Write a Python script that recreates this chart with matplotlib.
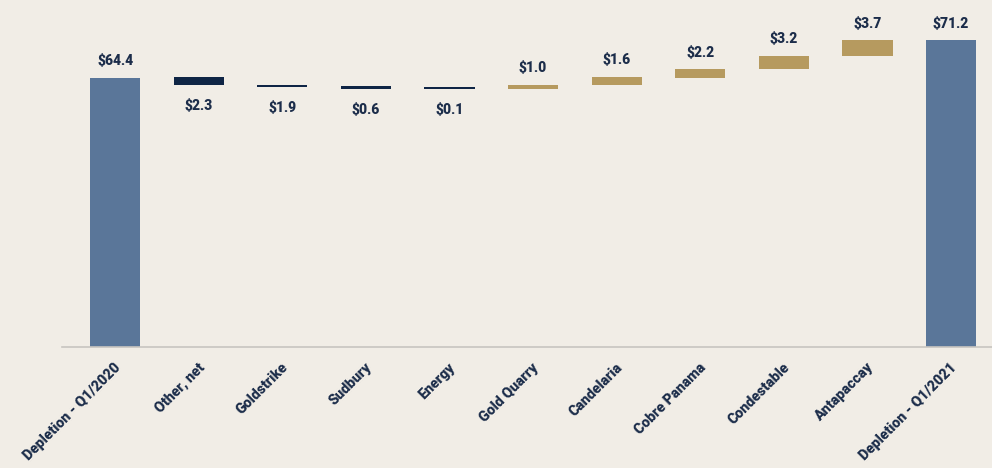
import matplotlib
matplotlib.use('Agg')
import matplotlib.pyplot as plt

# 数据
categories = ['Depletion - Q1/2020', 'Other, net', 'Goldstrike', 'Sudbury', 'Energy',
              'Gold Quarry', 'Candelaria', 'Cobre Panama', 'Condestable', 'Antapaccay',
              'Depletion - Q1/2021']
labels = ['$64.4', '$2.3', '$1.9', '$0.6', '$0.1', '$1.0', '$1.6', '$2.2', '$3.2', '$3.7', '$71.2']
kinds = ['total', 'down', 'down', 'down', 'down', 'up', 'up', 'up', 'up', 'up', 'total']
# 图中柱子的上下沿
bar_low = [0, 63.0, 62.7, 62.4, 62.3, 62.3, 63.0, 64.4, 65.9, 68.4, 0]
bar_high = [64.4, 64.45, 63.05, 62.8, 62.65, 63.1, 64.5, 65.9, 68.4, 71.2, 71.2]

colors = {'total': '#5a7699', 'down': '#0f2545', 'up': '#b69a5f'}
bg = '#f1ede6'
text_color = '#1c2d4a'

plt.rcParams['font.family'] = ['Roboto', 'DejaVu Sans']

fig = plt.figure(figsize=(9.92, 4.68), dpi=100, facecolor=bg)
ax = fig.add_axes([62 / 992, 120.7 / 468, 930 / 992, 337.3 / 468])
ax.set_facecolor(bg)

x = range(len(categories))
for i in x:
    low = bar_low[i]
    high = bar_high[i]
    ax.bar(i, high - low, bottom=low, width=0.6, color=colors[kinds[i]], zorder=2)
    if kinds[i] == 'down':
        ax.annotate(labels[i], (i, low), xytext=(0, -10), textcoords='offset points',
                    ha='center', va='top', fontsize=10, fontweight='heavy', color=text_color)
    else:
        ax.annotate(labels[i], (i, high), xytext=(0, 7), textcoords='offset points',
                    ha='center', va='bottom', fontsize=10, fontweight='heavy', color=text_color)

ax.set_xlim(-0.635, 10.49)
ax.set_ylim(15.4, 76.7)

ax.set_xticks([i + 0.04 for i in x])
ax.set_xticklabels(categories, rotation=45, ha='right', va='center', rotation_mode='anchor',
                   fontsize=10.3, fontweight='heavy', color=text_color)
ax.tick_params(axis='x', length=0, pad=13)
ax.set_yticks([])

for side in ['top', 'right', 'left']:
    ax.spines[side].set_visible(False)
ax.spines['bottom'].set_color('#c8c5c0')
ax.spines['bottom'].set_linewidth(1.2)

fig.savefig('out.png', dpi=100, facecolor=bg)
